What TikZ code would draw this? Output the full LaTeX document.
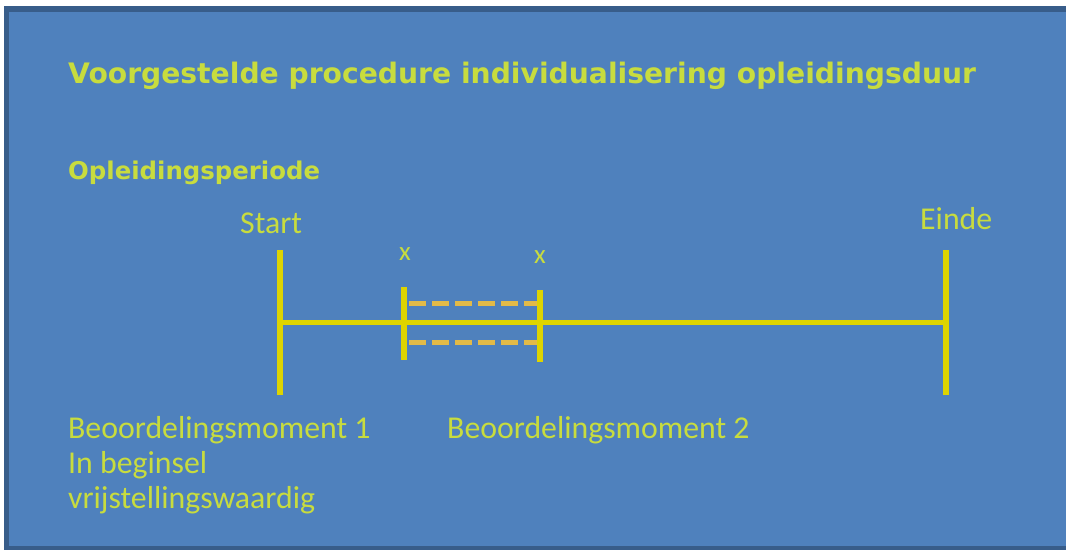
\documentclass[tikz,border=0pt]{standalone}
\usepackage{fontspec}
\setmainfont{Carlito}
\newfontfamily\kopfont{DejaVu Sans}
\definecolor{slide}{RGB}{79,129,189}
\definecolor{rand}{RGB}{56,93,138}
\definecolor{tekst}{RGB}{200,220,62}
\definecolor{lijn}{RGB}{222,212,0}
\definecolor{streep}{RGB}{226,186,72}
\tikzset{
  kop/.style={anchor=west,inner sep=0pt,text=tekst,font=\kopfont\bfseries\fontsize{28.2}{32}\selectfont},
  label/.style={anchor=west,inner sep=0pt,text=tekst,font=\fontsize{31.8}{35}\selectfont,align=left},
  balk/.style={lijn,line width=6pt},
  tijdlijn/.style={lijn,line width=5pt},
  marge/.style={streep,line width=5pt,dash pattern=on 17pt off 6pt}
}
\begin{document}
\begin{tikzpicture}[x=1pt,y=-1pt]
\useasboundingbox (0,0) rectangle (1066,551);
\fill[white] (0,0) rectangle (1066,551);
\fill[slide] (4,6) rectangle (1066,550);
% frame on top, left and bottom only
\fill[rand] (4,6) rectangle (1066,12);
\fill[rand] (4,6) rectangle (9,550);
\fill[rand] (4,546) rectangle (1066,550);

\node[kop] (titel) at (68,76) {Voorgestelde procedure individualisering opleidingsduur};
\node[kop,font=\kopfont\bfseries\fontsize{24.4}{28}\selectfont] (periode) at (68,173) {Opleidingsperiode};

\node[label] (start) at (240,223) {Start};
\node[label] (einde) at (920,219) {Einde};
\node[label,font=\fontsize{27}{30}\selectfont] (x1) at (399,254) {x};
\node[label,font=\fontsize{27}{30}\selectfont] (x2) at (534,257) {x};

% bars
\coordinate (s1) at (280,250); \coordinate (s2) at (280,395);
\coordinate (e1) at (946,250); \coordinate (e2) at (946,395);
\coordinate (a1) at (404,287); \coordinate (a2) at (404,360);
\coordinate (b1) at (540,290); \coordinate (b2) at (540,362);
\coordinate (ls) at (280,322); \coordinate (le) at (946,322);
\coordinate (d1) at (409,303); \coordinate (d2) at (538,303);
\coordinate (d3) at (409,342); \coordinate (d4) at (538,342);

\draw[marge] (d1) -- (d2);
\draw[marge] (d3) -- (d4);
\draw[tijdlijn] (ls) -- (le);
\draw[balk] (s1) -- (s2);
\draw[balk] (e1) -- (e2);
\draw[balk] (a1) -- (a2);
\draw[balk] (b1) -- (b2);

\node[label,anchor=north west] (moment1) at (68,416) {Beoordelingsmoment 1\\In beginsel\\vrijstellingswaardig};
\node[label,anchor=north west] (moment2) at (447,416) {Beoordelingsmoment 2};
\end{tikzpicture}
\end{document}
